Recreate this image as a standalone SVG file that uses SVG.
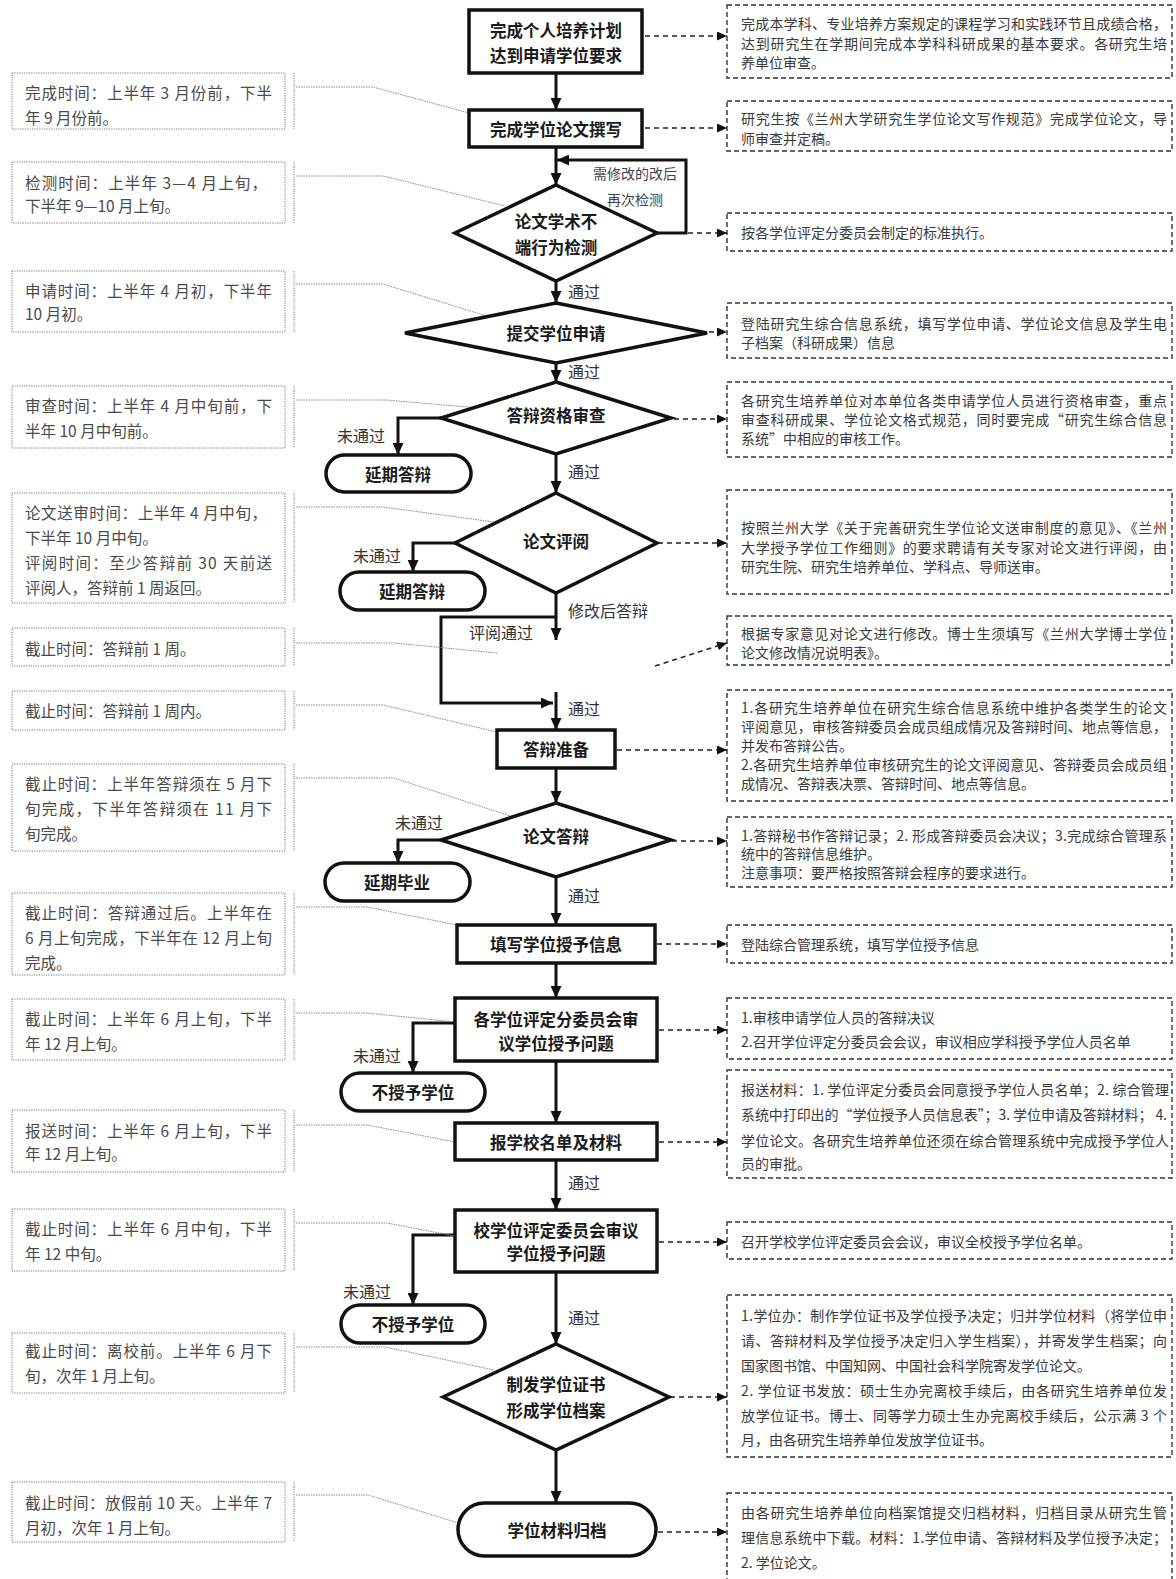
<svg xmlns="http://www.w3.org/2000/svg" width="1176" height="1579" viewBox="0 0 1176 1579">
  <style>
    text { font-family: 'Noto Sans CJK SC', 'Liberation Sans', sans-serif; }
    .box { fill: #fff; stroke: #111; stroke-width: 3.5; }
    .tm { font-size: 16.5px; font-weight: bold; fill: #1a1a1a; text-anchor: middle; dominant-baseline: central; }
    .lbl { font-size: 16px; fill: #333; dominant-baseline: central; }
    .lblm { font-size: 14px; fill: #444; text-anchor: middle; dominant-baseline: central; }
    .flow { fill: none; stroke: #111; stroke-width: 3; marker-end: url(#ah); }
    .dash { fill: none; stroke: #222; stroke-width: 1.5; stroke-dasharray: 5 4; marker-end: url(#ahs); }
    .rbox { fill: none; stroke: #333; stroke-width: 1.4; stroke-dasharray: 5 3; }
    .rt { font-size: 14px; fill: #3a3a3a; dominant-baseline: central; }
    .lbox { fill: none; stroke: #777; stroke-width: 1; stroke-dasharray: 1.2 1.2; }
    .lt { font-size: 15.5px; fill: #4a4a4a; dominant-baseline: central; }
    .lead { fill: none; stroke: #888; stroke-width: 1; stroke-dasharray: 1.5 1; }
  </style>
  <defs>
    <marker id="ah" markerUnits="userSpaceOnUse" markerWidth="12" markerHeight="11" refX="12" refY="5.5" orient="auto">
      <path d="M0,0 L12,5.5 L0,11 z" fill="#111"/>
    </marker>
    <marker id="ahs" markerUnits="userSpaceOnUse" markerWidth="10" markerHeight="9" refX="10" refY="4.5" orient="auto">
      <path d="M0,0 L10,4.5 L0,9 z" fill="#111"/>
    </marker>
  </defs>
  <rect width="1176" height="1579" fill="#fff"/>

  <!-- main flow connectors -->
  <g id="connectors">
    <path class="flow" d="M556,73 V110"/>
    <path class="flow" d="M556,147 V185"/>
    <path class="flow" d="M657,233 H686 V160 H557"/>
    <path class="flow" d="M556,281 V303"/>
    <path class="flow" d="M556,363 V382"/>
    <path class="flow" d="M441,418 H398 V455"/>
    <path class="flow" d="M556,454 V493"/>
    <path class="flow" d="M455,543 H413 V572"/>
    <path class="flow" d="M556,593 V640"/>
    <path class="flow" d="M556,617 H441 V703 H553"/>
    <path class="flow" d="M556,692 V730"/>
    <path class="flow" d="M556,768 V803"/>
    <path class="flow" d="M441,840 H398 V863"/>
    <path class="flow" d="M556,877 V925"/>
    <path class="flow" d="M556,963 V998"/>
    <path class="flow" d="M455,1023 H413 V1073"/>
    <path class="flow" d="M556,1061 V1123"/>
    <path class="flow" d="M556,1160 V1210"/>
    <path class="flow" d="M455,1235 H413 V1305"/>
    <path class="flow" d="M556,1272 V1344"/>
    <path class="flow" d="M556,1450 V1503"/>

    <!-- dashed links to the right-hand notes -->
    <path class="dash" d="M645,36 H727"/>
    <path class="dash" d="M645,128 H727"/>
    <path class="dash" d="M688,233 H727"/>
    <path class="dash" d="M709,332 H727"/>
    <path class="dash" d="M674,419 H727"/>
    <path class="dash" d="M658,543 H727"/>
    <path class="dash" d="M655,666 L727,643"/>
    <path class="dash" d="M617,750 H727"/>
    <path class="dash" d="M672,841 H727"/>
    <path class="dash" d="M657,944 H727"/>
    <path class="dash" d="M659,1030 H727"/>
    <path class="dash" d="M659,1142 H727"/>
    <path class="dash" d="M659,1242 H727"/>
    <path class="dash" d="M670,1397 H727"/>
    <path class="dash" d="M658,1532 H727"/>

    <!-- dotted leaders from the time notes -->
    <polyline class="lead" points="296,87 373,87 469,113"/>
    <polyline class="lead" points="296,176 383,176 505,206"/>
    <polyline class="lead" points="296,284 383,284 490,317"/>
    <polyline class="lead" points="296,400 387,400 501,410"/>
    <polyline class="lead" points="296,507 383,507 494,522"/>
    <polyline class="lead" points="296,643 394,643 497,653"/>
    <polyline class="lead" points="296,705 383,705 497,732"/>
    <polyline class="lead" points="296,778 394,778 513,817"/>
    <polyline class="lead" points="296,907 367,907 457,925"/>
    <polyline class="lead" points="296,1013 367,1013 455,1022"/>
    <polyline class="lead" points="296,1125 367,1125 455,1142"/>
    <polyline class="lead" points="296,1223 387,1223 455,1236"/>
    <polyline class="lead" points="296,1347 385,1347 494,1370"/>
    <polyline class="lead" points="296,1495 368,1495 458,1523"/>

    <!-- branch labels -->
    <text class="lblm" x="635" y="173">需修改的改后</text>
    <text class="lblm" x="635" y="199">再次检测</text>
    <text class="lbl" x="568" y="291">通过</text>
    <text class="lbl" x="568" y="371">通过</text>
    <text class="lbl" x="337" y="435">未通过</text>
    <text class="lbl" x="568" y="471">通过</text>
    <text class="lbl" x="353" y="555">未通过</text>
    <text class="lbl" x="568" y="610">修改后答辩</text>
    <text class="lbl" x="469" y="632">评阅通过</text>
    <text class="lbl" x="568" y="708">通过</text>
    <text class="lbl" x="395" y="822">未通过</text>
    <text class="lbl" x="568" y="895">通过</text>
    <text class="lbl" x="353" y="1055">未通过</text>
    <text class="lbl" x="568" y="1182">通过</text>
    <text class="lbl" x="343" y="1291">未通过</text>
    <text class="lbl" x="568" y="1317">通过</text>
  </g>

  <!-- main flow nodes -->
  <g id="n-plan">
    <rect class="box" x="469" y="10" width="173" height="63"/>
    <text class="tm" x="556" y="30">完成个人培养计划</text>
    <text class="tm" x="556" y="55">达到申请学位要求</text>
  </g>
  <g id="n-write">
    <rect class="box" x="469" y="110" width="173" height="37"/>
    <text class="tm" x="556" y="128.5">完成学位论文撰写</text>
  </g>
  <g id="n-check">
    <polygon class="box" points="556,185 657,233 556,281 455,233"/>
    <text class="tm" x="556" y="221">论文学术不</text>
    <text class="tm" x="556" y="247">端行为检测</text>
  </g>
  <g id="n-apply">
    <polygon class="box" points="556,303 707,333 556,363 405,333"/>
    <text class="tm" x="556" y="333">提交学位申请</text>
  </g>
  <g id="n-qualify">
    <polygon class="box" points="556,382 671,418 556,454 441,418"/>
    <text class="tm" x="556" y="415">答辩资格审查</text>
  </g>
  <g id="n-delay1">
    <rect class="box" x="326" y="455" width="145" height="37" rx="18.5"/>
    <text class="tm" x="398" y="474">延期答辩</text>
  </g>
  <g id="n-review">
    <polygon class="box" points="556,493 657,543 556,593 455,543"/>
    <text class="tm" x="556" y="541">论文评阅</text>
  </g>
  <g id="n-delay2">
    <rect class="box" x="340" y="572" width="145" height="38" rx="19"/>
    <text class="tm" x="412" y="591">延期答辩</text>
  </g>
  <g id="n-prepare">
    <rect class="box" x="497" y="730" width="118" height="38"/>
    <text class="tm" x="556" y="749">答辩准备</text>
  </g>
  <g id="n-defense">
    <polygon class="box" points="556,803 671,840 556,877 441,840"/>
    <text class="tm" x="556" y="836">论文答辩</text>
  </g>
  <g id="n-delay3">
    <rect class="box" x="325" y="863" width="145" height="38" rx="19"/>
    <text class="tm" x="397" y="882">延期毕业</text>
  </g>
  <g id="n-fill">
    <rect class="box" x="457" y="925" width="198" height="38"/>
    <text class="tm" x="556" y="944">填写学位授予信息</text>
  </g>
  <g id="n-subcommittee">
    <rect class="box" x="455" y="998" width="202" height="63"/>
    <text class="tm" x="556" y="1019">各学位评定分委员会审</text>
    <text class="tm" x="556" y="1043">议学位授予问题</text>
  </g>
  <g id="n-deny1">
    <rect class="box" x="341" y="1073" width="144" height="38" rx="19"/>
    <text class="tm" x="413" y="1092">不授予学位</text>
  </g>
  <g id="n-report">
    <rect class="box" x="455" y="1123" width="202" height="37"/>
    <text class="tm" x="556" y="1142">报学校名单及材料</text>
  </g>
  <g id="n-committee">
    <rect class="box" x="455" y="1210" width="202" height="62"/>
    <text class="tm" x="556" y="1230">校学位评定委员会审议</text>
    <text class="tm" x="556" y="1253">学位授予问题</text>
  </g>
  <g id="n-deny2">
    <rect class="box" x="341" y="1305" width="144" height="38" rx="19"/>
    <text class="tm" x="413" y="1324">不授予学位</text>
  </g>
  <g id="n-certificate">
    <polygon class="box" points="556,1344 669,1397 556,1450 443,1397"/>
    <text class="tm" x="556" y="1384">制发学位证书</text>
    <text class="tm" x="556" y="1410">形成学位档案</text>
  </g>
  <g id="n-archive">
    <rect class="box" x="458" y="1503" width="198" height="53" rx="26.5"/>
    <text class="tm" x="557" y="1530">学位材料归档</text>
  </g>

  <!-- right-hand notes -->
  <g id="r-plan">
    <rect class="rbox" x="727" y="5" width="445" height="73"/>
    <text class="rt" x="741" y="23" textLength="426" lengthAdjust="spacing">完成本学科、专业培养方案规定的课程学习和实践环节且成绩合格，</text>
    <text class="rt" x="741" y="43" textLength="426" lengthAdjust="spacing">达到研究生在学期间完成本学科科研成果的基本要求。各研究生培</text>
    <text class="rt" x="741" y="62">养单位审查。</text>
  </g>
  <g id="r-write">
    <rect class="rbox" x="727" y="101" width="445" height="50"/>
    <text class="rt" x="741" y="118" textLength="426" lengthAdjust="spacing">研究生按《兰州大学研究生学位论文写作规范》完成学位论文，导</text>
    <text class="rt" x="741" y="138">师审查并定稿。</text>
  </g>
  <g id="r-check">
    <rect class="rbox" x="727" y="213" width="445" height="38"/>
    <text class="rt" x="741" y="232">按各学位评定分委员会制定的标准执行。</text>
  </g>
  <g id="r-apply">
    <rect class="rbox" x="727" y="303" width="445" height="55"/>
    <text class="rt" x="741" y="323" textLength="426" lengthAdjust="spacing">登陆研究生综合信息系统，填写学位申请、学位论文信息及学生电</text>
    <text class="rt" x="741" y="342">子档案（科研成果）信息</text>
  </g>
  <g id="r-qualify">
    <rect class="rbox" x="727" y="382" width="445" height="75"/>
    <text class="rt" x="741" y="400" textLength="426" lengthAdjust="spacing">各研究生培养单位对本单位各类申请学位人员进行资格审查，重点</text>
    <text class="rt" x="741" y="419" textLength="426" lengthAdjust="spacing">审查科研成果、学位论文格式规范，同时要完成“研究生综合信息</text>
    <text class="rt" x="741" y="438">系统”中相应的审核工作。</text>
  </g>
  <g id="r-review">
    <rect class="rbox" x="727" y="490" width="445" height="104"/>
    <text class="rt" x="741" y="527" textLength="426" lengthAdjust="spacing">按照兰州大学《关于完善研究生学位论文送审制度的意见》、《兰州</text>
    <text class="rt" x="741" y="547" textLength="426" lengthAdjust="spacing">大学授予学位工作细则》的要求聘请有关专家对论文进行评阅，由</text>
    <text class="rt" x="741" y="566">研究生院、研究生培养单位、学科点、导师送审。</text>
  </g>
  <g id="r-revise">
    <rect class="rbox" x="727" y="616" width="445" height="49"/>
    <text class="rt" x="741" y="633" textLength="426" lengthAdjust="spacing">根据专家意见对论文进行修改。博士生须填写《兰州大学博士学位</text>
    <text class="rt" x="741" y="652">论文修改情况说明表》。</text>
  </g>
  <g id="r-prepare">
    <rect class="rbox" x="727" y="690" width="445" height="111"/>
    <text class="rt" x="741" y="707" textLength="426" lengthAdjust="spacing">1.各研究生培养单位在研究生综合信息系统中维护各类学生的论文</text>
    <text class="rt" x="741" y="726" textLength="426" lengthAdjust="spacing">评阅意见，审核答辩委员会成员组成情况及答辩时间、地点等信息，</text>
    <text class="rt" x="741" y="745">并发布答辩公告。</text>
    <text class="rt" x="741" y="764" textLength="426" lengthAdjust="spacing">2.各研究生培养单位审核研究生的论文评阅意见、答辩委员会成员组</text>
    <text class="rt" x="741" y="783">成情况、答辩表决票、答辩时间、地点等信息。</text>
  </g>
  <g id="r-defense">
    <rect class="rbox" x="727" y="817" width="445" height="70"/>
    <text class="rt" x="741" y="835" textLength="426" lengthAdjust="spacing">1.答辩秘书作答辩记录；2. 形成答辩委员会决议；3.完成综合管理系</text>
    <text class="rt" x="741" y="853">统中的答辩信息维护。</text>
    <text class="rt" x="741" y="872">注意事项：要严格按照答辩会程序的要求进行。</text>
  </g>
  <g id="r-fill">
    <rect class="rbox" x="727" y="925" width="445" height="38"/>
    <text class="rt" x="741" y="944">登陆综合管理系统，填写学位授予信息</text>
  </g>
  <g id="r-subcommittee">
    <rect class="rbox" x="727" y="998" width="445" height="61"/>
    <text class="rt" x="741" y="1017">1.审核申请学位人员的答辩决议</text>
    <text class="rt" x="741" y="1041">2.召开学位评定分委员会会议，审议相应学科授予学位人员名单</text>
  </g>
  <g id="r-report">
    <rect class="rbox" x="727" y="1070" width="445" height="108"/>
    <text class="rt" x="741" y="1089" textLength="428" lengthAdjust="spacing">报送材料：1. 学位评定分委员会同意授予学位人员名单；2. 综合管理</text>
    <text class="rt" x="741" y="1114" textLength="426" lengthAdjust="spacing">系统中打印出的“学位授予人员信息表”；3. 学位申请及答辩材料； 4.</text>
    <text class="rt" x="741" y="1140" textLength="428" lengthAdjust="spacing">学位论文。各研究生培养单位还须在综合管理系统中完成授予学位人</text>
    <text class="rt" x="741" y="1163">员的审批。</text>
  </g>
  <g id="r-committee">
    <rect class="rbox" x="727" y="1222" width="445" height="37"/>
    <text class="rt" x="741" y="1241">召开学校学位评定委员会会议，审议全校授予学位名单。</text>
  </g>
  <g id="r-certificate">
    <rect class="rbox" x="727" y="1295" width="445" height="162"/>
    <text class="rt" x="741" y="1315" textLength="426" lengthAdjust="spacing">1.学位办：制作学位证书及学位授予决定；归并学位材料（将学位申</text>
    <text class="rt" x="741" y="1340" textLength="426" lengthAdjust="spacing">请、答辩材料及学位授予决定归入学生档案），并寄发学生档案；向</text>
    <text class="rt" x="741" y="1365">国家图书馆、中国知网、中国社会科学院寄发学位论文。</text>
    <text class="rt" x="741" y="1390" textLength="426" lengthAdjust="spacing">2. 学位证书发放：硕士生办完离校手续后，由各研究生培养单位发</text>
    <text class="rt" x="741" y="1415" textLength="426" lengthAdjust="spacing">放学位证书。博士、同等学力硕士生办完离校手续后，公示满 3 个</text>
    <text class="rt" x="741" y="1439">月，由各研究生培养单位发放学位证书。</text>
  </g>
  <g id="r-archive">
    <rect class="rbox" x="727" y="1493" width="445" height="100"/>
    <text class="rt" x="741" y="1512" textLength="426" lengthAdjust="spacing">由各研究生培养单位向档案馆提交归档材料，归档目录从研究生管</text>
    <text class="rt" x="741" y="1537" textLength="426" lengthAdjust="spacing">理信息系统中下载。材料：1.学位申请、答辩材料及学位授予决定；</text>
    <text class="rt" x="741" y="1562">2. 学位论文。</text>
  </g>

  <!-- left-hand time notes -->
  <g id="l-write">
    <rect class="lbox" x="12" y="73" width="273" height="56"/>
    <line class="lbox" x1="294" y1="73" x2="294" y2="129"/>
    <text class="lt" x="25" y="92" textLength="247" lengthAdjust="spacing">完成时间：上半年 3 月份前，下半</text>
    <text class="lt" x="25" y="117">年 9 月份前。</text>
  </g>
  <g id="l-check">
    <rect class="lbox" x="12" y="162" width="273" height="61"/>
    <line class="lbox" x1="294" y1="162" x2="294" y2="223"/>
    <text class="lt" x="25" y="182" textLength="242" lengthAdjust="spacing">检测时间：上半年 3—4 月上旬，</text>
    <text class="lt" x="25" y="205">下半年 9—10 月上旬。</text>
  </g>
  <g id="l-apply">
    <rect class="lbox" x="12" y="271" width="273" height="61"/>
    <line class="lbox" x1="294" y1="271" x2="294" y2="332"/>
    <text class="lt" x="25" y="290" textLength="247" lengthAdjust="spacing">申请时间：上半年 4 月初，下半年</text>
    <text class="lt" x="25" y="313">10 月初。</text>
  </g>
  <g id="l-qualify">
    <rect class="lbox" x="12" y="386" width="273" height="62"/>
    <line class="lbox" x1="294" y1="386" x2="294" y2="448"/>
    <text class="lt" x="25" y="405" textLength="247" lengthAdjust="spacing">审查时间：上半年 4 月中旬前，下</text>
    <text class="lt" x="25" y="430">半年 10 月中旬前。</text>
  </g>
  <g id="l-review">
    <rect class="lbox" x="12" y="493" width="273" height="110"/>
    <line class="lbox" x1="294" y1="493" x2="294" y2="603"/>
    <text class="lt" x="25" y="512" textLength="242" lengthAdjust="spacing">论文送审时间：上半年 4 月中旬，</text>
    <text class="lt" x="25" y="537">下半年 10 月中旬。</text>
    <text class="lt" x="25" y="562" textLength="247" lengthAdjust="spacing">评阅时间：至少答辩前 30 天前送</text>
    <text class="lt" x="25" y="587">评阅人，答辩前 1 周返回。</text>
  </g>
  <g id="l-revise">
    <rect class="lbox" x="12" y="628" width="273" height="38"/>
    <line class="lbox" x1="294" y1="628" x2="294" y2="666"/>
    <text class="lt" x="25" y="648">截止时间：答辩前 1 周。</text>
  </g>
  <g id="l-prepare">
    <rect class="lbox" x="12" y="691" width="273" height="39"/>
    <line class="lbox" x1="294" y1="691" x2="294" y2="730"/>
    <text class="lt" x="25" y="710">截止时间：答辩前 1 周内。</text>
  </g>
  <g id="l-defense">
    <rect class="lbox" x="12" y="764" width="273" height="87"/>
    <line class="lbox" x1="294" y1="764" x2="294" y2="851"/>
    <text class="lt" x="25" y="783" textLength="247" lengthAdjust="spacing">截止时间：上半年答辩须在 5 月下</text>
    <text class="lt" x="25" y="808" textLength="247" lengthAdjust="spacing">旬完成，下半年答辩须在 11 月下</text>
    <text class="lt" x="25" y="833">旬完成。</text>
  </g>
  <g id="l-fill">
    <rect class="lbox" x="12" y="893" width="273" height="82"/>
    <line class="lbox" x1="294" y1="893" x2="294" y2="975"/>
    <text class="lt" x="25" y="912" textLength="247" lengthAdjust="spacing">截止时间：答辩通过后。上半年在</text>
    <text class="lt" x="25" y="937" textLength="247" lengthAdjust="spacing">6 月上旬完成，下半年在 12 月上旬</text>
    <text class="lt" x="25" y="962">完成。</text>
  </g>
  <g id="l-subcommittee">
    <rect class="lbox" x="12" y="999" width="273" height="61"/>
    <line class="lbox" x1="294" y1="999" x2="294" y2="1060"/>
    <text class="lt" x="25" y="1018" textLength="247" lengthAdjust="spacing">截止时间：上半年 6 月上旬，下半</text>
    <text class="lt" x="25" y="1043">年 12 月上旬。</text>
  </g>
  <g id="l-report">
    <rect class="lbox" x="12" y="1110" width="273" height="62"/>
    <line class="lbox" x1="294" y1="1110" x2="294" y2="1172"/>
    <text class="lt" x="25" y="1130" textLength="247" lengthAdjust="spacing">报送时间：上半年 6 月上旬，下半</text>
    <text class="lt" x="25" y="1153">年 12 月上旬。</text>
  </g>
  <g id="l-committee">
    <rect class="lbox" x="12" y="1209" width="273" height="62"/>
    <line class="lbox" x1="294" y1="1209" x2="294" y2="1271"/>
    <text class="lt" x="25" y="1228" textLength="247" lengthAdjust="spacing">截止时间：上半年 6 月中旬，下半</text>
    <text class="lt" x="25" y="1253">年 12 中旬。</text>
  </g>
  <g id="l-certificate">
    <rect class="lbox" x="12" y="1333" width="273" height="60"/>
    <line class="lbox" x1="294" y1="1333" x2="294" y2="1393"/>
    <text class="lt" x="25" y="1350" textLength="247" lengthAdjust="spacing">截止时间：离校前。上半年 6 月下</text>
    <text class="lt" x="25" y="1375">旬，次年 1 月上旬。</text>
  </g>
  <g id="l-archive">
    <rect class="lbox" x="12" y="1482" width="273" height="60"/>
    <line class="lbox" x1="294" y1="1482" x2="294" y2="1542"/>
    <text class="lt" x="25" y="1502" textLength="247" lengthAdjust="spacing">截止时间：放假前 10 天。上半年 7</text>
    <text class="lt" x="25" y="1527">月初，次年 1 月上旬。</text>
  </g>
</svg>
